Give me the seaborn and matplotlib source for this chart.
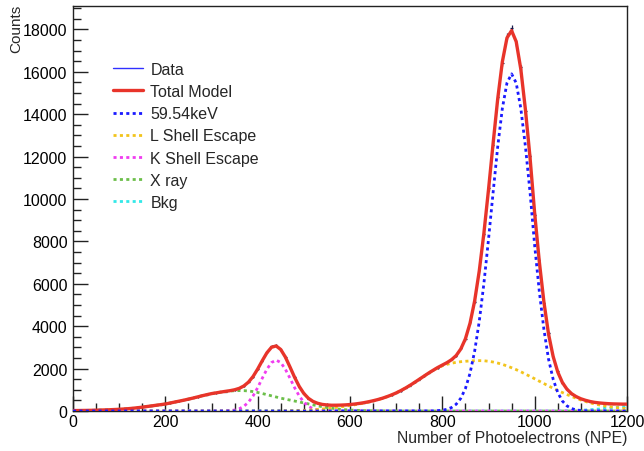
import numpy as np
import pandas as pd
import matplotlib
matplotlib.use("Agg")
import matplotlib.pyplot as plt
import seaborn as sns
from matplotlib.lines import Line2D
from matplotlib.ticker import MultipleLocator

# ---------------- data ----------------
npe = np.arange(0, 1210, 10)  # sample positions (NPE)

data_counts = [25, 18, 30, 24, 36, 35, 50, 48, 66, 64,
               85, 92, 118, 126, 162, 176, 218, 236, 280, 292,
               342, 366, 432, 458, 522, 552, 624, 655, 735, 760,
               838, 842, 905, 915, 975, 990, 1080, 1165, 1380, 1610,
               2000, 2360, 2770, 3060, 3110, 2880, 2570, 2050, 1610, 1145,
               840, 585, 462, 355, 318, 280, 276, 268, 284, 282,
               312, 322, 365, 386, 445, 476, 550, 592, 690, 748,
               868, 948, 1100, 1195, 1375, 1480, 1665, 1770, 1945, 2035,
               2190, 2265, 2445, 2600, 2960, 3380, 4180, 5150, 6660, 8330,
               10500, 12560, 14820, 16400, 17700, 18050, 17350, 16200, 14130, 12030,
               9250, 7120, 5090, 3680, 2540, 1865, 1330, 1040, 805, 690,
               570, 512, 442, 412, 376, 364, 340, 338, 326, 330, 320]

total_model = [20, 22, 25, 28, 32, 38, 45, 52, 60, 70,
               80, 95, 110, 130, 155, 180, 210, 240, 270, 300,
               330, 375, 420, 465, 510, 560, 610, 665, 720, 770,
               820, 855, 892, 926, 958, 1001, 1067, 1180, 1360, 1625,
               1978, 2374, 2745, 3006, 3068, 2900, 2543, 2076, 1590, 1160,
               827, 597, 450, 363, 310, 286, 272, 273, 278, 288,
               305, 328, 357, 392, 435, 483, 538, 601, 675, 758,
               852, 961, 1080, 1210, 1350, 1495, 1640, 1785, 1920, 2051,
               2166, 2280, 2420, 2615, 2925, 3405, 4140, 5190, 6605, 8380,
               10435, 12620, 14730, 16470, 17595, 17940, 17420, 16120, 14210, 11942,
               9320, 7056, 5144, 3632, 2574, 1840, 1345, 1026, 817, 677,
               577, 505, 448, 407, 380, 360, 345, 335, 330, 325, 325]

peak_5954 = ([0] * 79 + [16,
             36, 80, 165, 320, 600, 1060, 1780, 2820, 4230, 6010,
             8090, 10310, 12470, 14270, 15470, 15900, 15470, 14270, 12470, 10310,
             7800, 5650, 3850, 2450, 1500, 870, 470, 240, 115, 52,
             22, 8, 3] + [0] * 8)

l_shell = ([0] * 40 +
           [3, 4, 5, 6, 8, 10, 13, 16, 20, 25,
            32, 42, 55, 72, 92, 115, 140, 168, 198, 228,
            260, 293, 330, 372, 420, 472, 530, 595, 670, 755,
            850, 960, 1080, 1210, 1350, 1495, 1640, 1785, 1920, 2035,
            2130, 2200, 2255, 2295, 2325, 2345, 2360, 2370, 2375, 2370,
            2345, 2310, 2260, 2200, 2125, 2040, 1950, 1850, 1740, 1632,
            1520, 1406, 1294, 1182, 1074, 970, 870, 776, 687, 600,
            520, 450, 385, 330, 285, 245, 210, 180, 155, 130, 110])

k_shell = ([0] * 32 + [2, 6, 18, 46, 105, 220, 415, 710,
                       1100, 1545, 1970, 2285, 2400, 2285, 1970, 1545, 1100, 710,
                       415, 220, 105, 46, 18, 6, 2] + [0] * 64)

x_ray = ([20, 22, 25, 28, 32, 38, 45, 52, 60, 70,
          80, 95, 110, 130, 155, 180, 210, 240, 270, 300,
          330, 375, 420, 465, 510, 560, 610, 665, 720, 770,
          820, 855, 890, 920, 940, 955, 962, 960, 945, 915,
          875, 825, 770, 715, 660, 605, 560, 515, 470, 425,
          380, 335, 290, 245, 200, 165, 130, 105, 80, 60,
          45, 35, 27, 20, 15, 11, 8, 6, 5, 3,
          2, 1] + [0] * 49)

bkg = [0] * 106 + [5, 10, 15, 25, 35, 47, 60, 77, 95, 115, 135, 155, 175, 195, 215]

legend_labels = ["Data", "Total Model", "59.54keV", "L Shell Escape",
                 "K Shell Escape", "X ray", "Bkg"]

# ---------------- styling ----------------
sns.set_style("ticks")
plt.rcParams["font.family"] = ["Liberation Sans", "DejaVu Sans"]

W, H = 644, 452
fig = plt.figure(figsize=(W / 100, H / 100), dpi=100)
ax = fig.add_axes([73 / W, 1 - 412 / H, (627 - 73) / W, (412 - 7) / H])

col_data = "#1a1a4a"
col_total = "#e8342a"
col_blue = "#1a1aff"
col_yellow = "#f2c41c"
col_mag = "#f03cf0"
col_green = "#6cbf4a"
col_cyan = "#33e8e8"
dot = (0, (1.1, 1.2))

# data crosses
dc = np.array(data_counts, dtype=float)
ax.errorbar(npe, dc, xerr=2.5, yerr=np.sqrt(dc), fmt="none",
            ecolor=col_data, elinewidth=0.9, zorder=2)

df = pd.DataFrame({"npe": npe, "total": total_model, "peak": peak_5954,
                   "l": l_shell, "k": k_shell, "x": x_ray, "bkg": bkg})

comp = [("bkg", col_cyan), ("x", col_green), ("k", col_mag),
        ("l", col_yellow)]
for key, c in comp:
    sns.lineplot(data=df, x="npe", y=key, ax=ax, color=c, lw=2.0,
                 linestyle=dot, zorder=3, legend=False)
sns.lineplot(data=df, x="npe", y="total", ax=ax, color=col_total, lw=2.4,
             zorder=4, legend=False)
sns.lineplot(data=df, x="npe", y="peak", ax=ax, color=col_blue, lw=2.0,
             linestyle=dot, zorder=5, legend=False)

ax.set_xlim(0, 1200)
ax.set_ylim(0, 19100)

ax.xaxis.set_major_locator(MultipleLocator(200))
ax.xaxis.set_minor_locator(MultipleLocator(50))
ax.yaxis.set_major_locator(MultipleLocator(2000))
ax.yaxis.set_minor_locator(MultipleLocator(500))
ax.tick_params(which="both", direction="in", top=False, right=False,
               colors="#222222", labelcolor="black")
ax.tick_params(which="major", length=11, width=1.0)
ax.tick_params(which="minor", length=6, width=1.0)
ax.tick_params(axis="x", which="major", pad=2, labelsize=11.5)
ax.tick_params(axis="y", which="major", pad=4, labelsize=11.5)
for s in ax.spines.values():
    s.set_linewidth(1.0)
    s.set_color("#222222")

ax.set_xlabel("Number of Photoelectrons (NPE)", fontsize=11.3, loc="right")
ax.xaxis.set_label_coords(1.0, -0.047)
ax.set_ylabel("Counts", fontsize=11, loc="top")
ax.yaxis.set_label_coords(-0.09, 1.005)

handles = [Line2D([], [], color="#3030ff", lw=1.0),
           Line2D([], [], color=col_total, lw=2.4),
           Line2D([], [], color=col_blue, lw=2.0, linestyle=dot),
           Line2D([], [], color=col_yellow, lw=2.0, linestyle=dot),
           Line2D([], [], color=col_mag, lw=2.0, linestyle=dot),
           Line2D([], [], color=col_green, lw=2.0, linestyle=dot),
           Line2D([], [], color=col_cyan, lw=2.0, linestyle=dot)]
ax.legend(handles, legend_labels, loc="upper left",
          bbox_to_anchor=(0.072, 0.862), frameon=False, fontsize=11.5,
          borderpad=0, borderaxespad=0, handlelength=1.9,
          handletextpad=0.45, labelspacing=0.45)

fig.savefig("out.png", dpi=100)
